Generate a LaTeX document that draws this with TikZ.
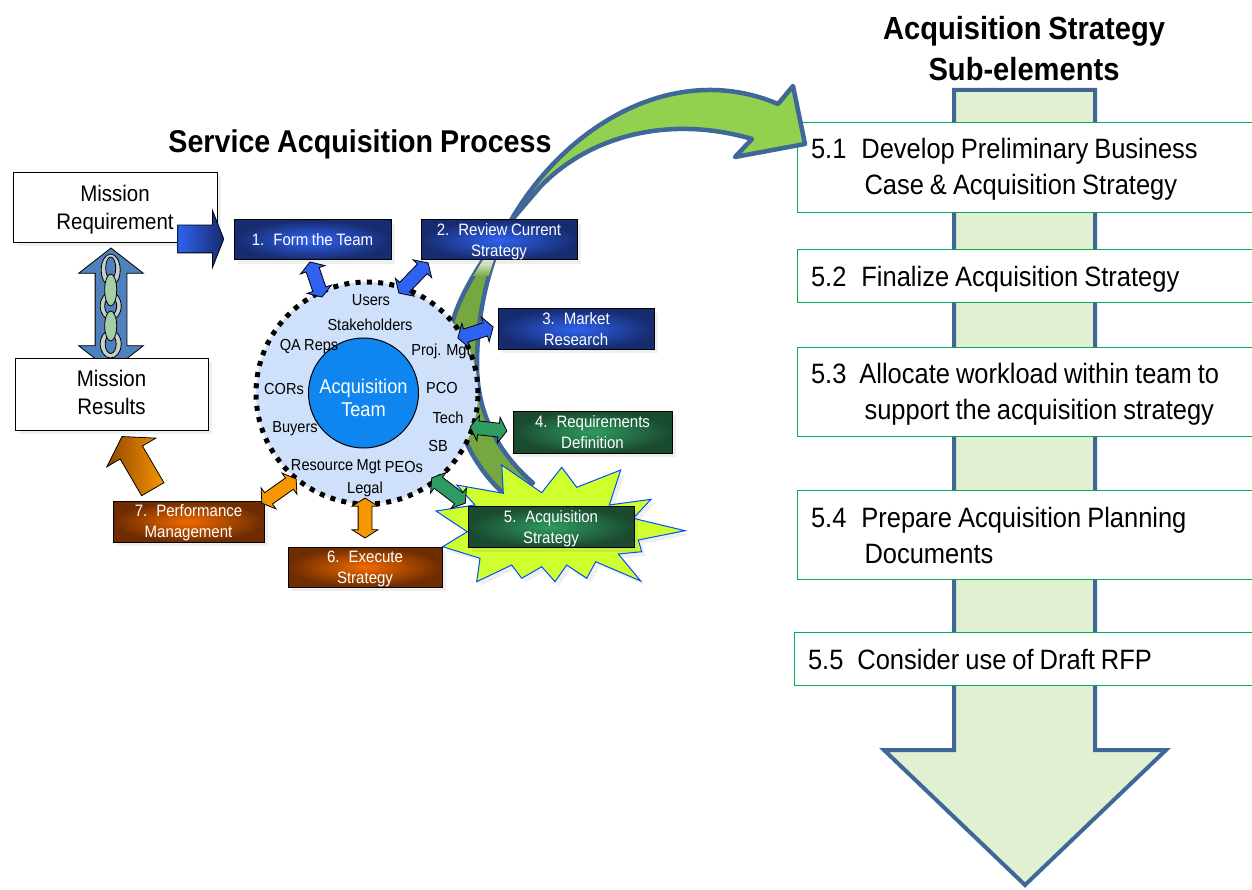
\documentclass[tikz,border=0pt]{standalone}
\usepackage{fontspec}
\setmainfont{Liberation Sans}[FakeStretch=0.91,WordSpace=0.85]
\usetikzlibrary{shapes.arrows,shadows}

\definecolor{edgeblue}{HTML}{3F6797}
\definecolor{chainblue}{HTML}{4F81BD}
\definecolor{paleleaf}{HTML}{E0F0D0}
\definecolor{subgreen}{HTML}{00B050}
\definecolor{brightleaf}{HTML}{92D050}
\definecolor{darkleaf}{HTML}{76A83F}
\definecolor{navyout}{HTML}{172C6E}
\definecolor{navyin}{HTML}{2F62F0}
\definecolor{pineout}{HTML}{1A4A2F}
\definecolor{pinein}{HTML}{2F9B62}
\definecolor{rustout}{HTML}{6E2C00}
\definecolor{rustin}{HTML}{F06A00}
\definecolor{amber}{HTML}{F79600}
\definecolor{sky}{HTML}{CFE0FA}
\definecolor{teamblue}{HTML}{0F85EF}
\definecolor{burst}{HTML}{D0FF2E}

\tikzset{
  softshadow/.style={drop shadow={opacity=.13,shadow xshift=4pt,shadow yshift=-4pt}},
  whitebox/.style={draw=black,fill=white,line width=.9pt,inner sep=0pt,align=center,softshadow,
    font=\fontsize{22.5}{28}\selectfont},
  stepbox/.style={draw=black,line width=1pt,inner sep=0pt,align=center,softshadow,text=white,
    font=\fontsize{16.5}{21}\selectfont},
  navybox/.style={stepbox,inner color=navyin,outer color=navyout},
  pinebox/.style={stepbox,inner color=pinein,outer color=pineout},
  rustbox/.style={stepbox,inner color=rustin,outer color=rustout},
  subbox/.style={draw=subgreen,fill=white,line width=1pt,inner sep=0pt,anchor=north west,
    align=flush left,text width=462pt,font=\fontsize{28}{36}\selectfont},
  crewtext/.style={inner sep=0pt,yshift=-1.5pt,font=\fontsize{16}{18}\selectfont},
  headtext/.style={inner sep=0pt,align=center,font=\bfseries\fontsize{32}{41}\selectfont},
  linkbase/.style={double arrow,draw=black,line width=.8pt,inner xsep=0pt,inner ysep=6.5pt,sloped,allow upside down,
    minimum width=25pt,double arrow head extend=6pt,double arrow tip angle=115},
  bluelink/.style={linkbase,fill=navyin},
  pinelink/.style={linkbase,fill=pinein},
  amberlink/.style={linkbase,fill=amber},
  ringlink/.style={draw=black,line width=.8pt,fill=black!8!green!8!gray!40},
  ringhole/.style={draw=black,line width=.8pt,fill=chainblue},
  ovallink/.style={draw=black,line width=.8pt,fill=green!30!gray!55}
}

\begin{document}
\begin{tikzpicture}[x=1pt,y=-1pt]
      \useasboundingbox (0,0) rectangle (1252,890);

      \draw[edgeblue,line width=4pt,fill=paleleaf,miter limit=10] (954,90) -- (1095,90) -- (1095,750)
        -- (1166,750) -- (1025,885) -- (884,750) -- (954,750) -- cycle;
      \node[subbox,minimum height=90pt,text depth=38pt] (sub1) at (797,122) {\hspace*{13.5pt}5.1\hspace{15pt}Develop Preliminary Business\\\hspace*{67pt}Case \& Acquisition Strategy};
      \node[subbox,minimum height=53pt,text depth=0pt] (sub2) at (797,249) {\hspace*{13.5pt}5.2\hspace{15pt}Finalize Acquisition Strategy};
      \node[subbox,minimum height=89pt,text depth=38pt] (sub3) at (797,347) {\hspace*{13.5pt}5.3\hspace{13pt}Allocate workload within team to\\\hspace*{67pt}support the acquisition strategy};
      \node[subbox,minimum height=89pt] (sub4) at (797,490) {\hspace*{13.5pt}5.4\hspace{15pt}Prepare Acquisition Planning\\\hspace*{67pt}Documents};
      \node[subbox,minimum height=53pt,text width=465pt] (sub5) at (794,632) {\hspace*{13.5pt}5.5\hspace{14pt}Consider use of Draft RFP};

      \node[headtext] (subhead) at (1024,48.5) {Acquisition Strategy\\Sub-elements};
      \node[headtext,font=\bfseries\fontsize{31.5}{41}\selectfont] (prochead) at (360,144) {Service Acquisition Process};

      \draw[edgeblue,line width=4.5pt,fill=darkleaf,line join=round] (510,222)
        .. controls (490,260) and (477,310) .. (477,365)
        .. controls (477,410) and (495,450) .. (533,483)
        -- (505,495) .. controls (455,450) and (440,380) .. (453,320)
        .. controls (462,290) and (485,255) .. (510,222) -- cycle;
      \begin{scope}
        \clip (510,222) .. controls (490,260) and (477,310) .. (477,365) -- (453,320)
          .. controls (462,290) and (485,255) .. (510,222) -- cycle;
        \shade[top color=darkleaf!15!white,bottom color=darkleaf] (460,261) rectangle (500,276);
      \end{scope}
      \draw[edgeblue,line width=4.5pt,fill=brightleaf,line join=round] (510,222)
        .. controls (565,125) and (675,60) .. (778,104) -- (793,86) -- (805,144) -- (735,157) -- (752,139)
        .. controls (670,115) and (590,135) .. (540,187) -- cycle;

      \node[whitebox,minimum width=204pt,minimum height=70pt,text depth=0pt] (require) at (115,207) {Mission\\Requirement};
      \coordinate (chainA) at (111,248);
      \coordinate (chainB) at (111,371);
      \path (chainA) -- node[double arrow,draw=black,line width=.8pt,fill=chainblue,inner xsep=0pt,inner ysep=15.5pt,sloped,allow upside down,
        minimum height=123pt,minimum width=64pt,double arrow head extend=16.5pt,double arrow tip angle=104] (chainarrow) {} (chainB);
      \draw[ringlink] (110.7,270) ellipse (9.5 and 16);
      \draw[ringhole] (110.7,268) ellipse (5 and 11);
      \draw[ringlink] (110.7,306) ellipse (10.5 and 14);
      \draw[ringhole] (110.7,306) ellipse (6 and 9);
      \draw[ringlink] (110.7,344) ellipse (10.5 and 14);
      \draw[ringhole] (110.7,344) ellipse (5.5 and 9.5);
      \draw[ovallink] (110.7,290) ellipse (6 and 16);
      \draw[ovallink] (110.7,326) ellipse (6 and 15);
      \node[whitebox,minimum width=193pt,minimum height=72pt,text depth=4pt] (results) at (111.5,394) {Mission\\Results};

      \node[navybox,minimum width=157pt,minimum height=40pt] (form) at (312.5,240) {1.\hspace{9pt}Form the Team};
      \node[navybox,minimum width=156pt,minimum height=40pt,text depth=0pt] (review) at (499,240) {2.\hspace{9pt}Review Current\\Strategy};
      \node[navybox,minimum width=156pt,minimum height=40pt] (market) at (576,329) {3.\hspace{9pt}Market\\Research};
      \node[pinebox,minimum width=159pt,minimum height=42pt] (define) at (592.5,432) {4.\hspace{9pt}Requirements\\Definition};

      \draw[blue!70!cyan,line width=1pt,fill=burst,softshadow] (456.7,485) -- (503.3,493.3) -- (501.7,465) -- (541.7,492.7)
        -- (561.7,467.3) -- (576.7,487.3) -- (620.7,470) -- (609.3,505) -- (651,499.3) -- (633.3,518.3)
        -- (685,530.7) -- (638.3,540) -- (641.7,551.7) -- (618.3,554) -- (640.7,581) -- (595.7,561.7)
        -- (586.7,578.3) -- (566.7,565) -- (555,581.7) -- (541.7,566.7) -- (521.7,578.3) -- (511.7,565)
        -- (476.7,581.7) -- (480,558.3) -- (442.7,546.7) -- (467.3,531.7) -- (436,511) -- (475,505) -- cycle;
      \node[pinebox,minimum width=166pt,minimum height=41pt,text depth=0pt] (acquire) at (551,527) {5.\hspace{9pt}Acquisition\\Strategy};
      \node[rustbox,minimum width=154pt,minimum height=40pt,text depth=0pt] (execute) at (365,567) {6.\hspace{9pt}Execute\\Strategy};
      \node[rustbox,minimum width=151pt,minimum height=41pt,text depth=0pt] (perform) at (188.5,521.5) {7.\hspace{9pt}Performance\\Management};

      \node[circle,draw=black,fill=sky,line width=5pt,dash pattern=on 5pt off 6.3pt,inner sep=0pt,minimum size=222pt] (crew) at (367,393) {};
      \node[circle,draw=black,fill=teamblue,line width=1pt,inner sep=0pt,minimum size=110pt,text=white,align=center,text height=48pt,
        font=\fontsize{20}{23}\selectfont] (team) at (363.5,393) {Acquisition\\Team};
      \node[crewtext] (users) at (371,299) {Users};
      \node[crewtext] (holders) at (370,323) {Stakeholders};
      \node[crewtext] (qareps) at (309,345) {QA Reps};
      \node[crewtext] (projmgt) at (441,350) {Proj.\hspace{5pt}Mgt};
      \node[crewtext] (cors) at (284,387) {CORs};
      \node[crewtext] (pco) at (442,386) {PCO};
      \node[crewtext] (tech) at (448,416) {Tech};
      \node[crewtext] (buyers) at (295,427) {Buyers};
      \node[crewtext] (sb) at (438,444) {SB};
      \node[crewtext] (resmgt) at (336,465) {Resource Mgt};
      \node[crewtext] (peos) at (404,465) {PEOs};
      \node[crewtext] (legal) at (365,488) {Legal};

      \coordinate (reqA) at (175,239);
      \coordinate (reqB) at (221,239);
      \path (reqA) -- node[single arrow,draw=black,line width=.8pt,left color=navyin,right color=navyout,inner xsep=0pt,inner ysep=13.5pt,sloped,
        minimum height=46pt,minimum width=56pt,single arrow head extend=14.5pt,single arrow tip angle=137] (reqarrow) {} (reqB);

      \coordinate (link1A) at (322,297);
      \coordinate (link1B) at (310,262);
      \path (link1A) -- node[bluelink,minimum height=37pt] (link1) {} (link1B);
      \coordinate (link2A) at (399,293);
      \coordinate (link2B) at (428,263);
      \path (link2A) -- node[bluelink,minimum height=42pt] (link2) {} (link2B);
      \coordinate (link3A) at (458,338);
      \coordinate (link3B) at (493,327);
      \path (link3A) -- node[bluelink,minimum height=37pt] (link3) {} (link3B);
      \coordinate (link4A) at (470,427);
      \coordinate (link4B) at (507,431);
      \path (link4A) -- node[pinelink,minimum height=37pt] (link4) {} (link4B);
      \coordinate (link5A) at (432,478);
      \coordinate (link5B) at (465,503);
      \path (link5A) -- node[pinelink,minimum height=42pt] (link5) {} (link5B);
      \coordinate (link6A) at (365,498);
      \coordinate (link6B) at (365,538);
      \path (link6A) -- node[amberlink,minimum height=40pt] (link6) {} (link6B);
      \coordinate (link7A) at (262,503);
      \coordinate (link7B) at (296,479);
      \path (link7A) -- node[amberlink,minimum height=42pt] (link7) {} (link7B);

      \coordinate (backA) at (155,493);
      \coordinate (backB) at (124,440);
      \path (backA) -- node[single arrow,draw=black,line width=.8pt,left color=rustout!75!amber,right color=amber,inner xsep=0pt,inner ysep=12.5pt,sloped,allow upside down,
        minimum height=61pt,minimum width=56pt,single arrow head extend=15.5pt,single arrow tip angle=114] (backarrow) {} (backB);
    \end{tikzpicture}
\end{document}
